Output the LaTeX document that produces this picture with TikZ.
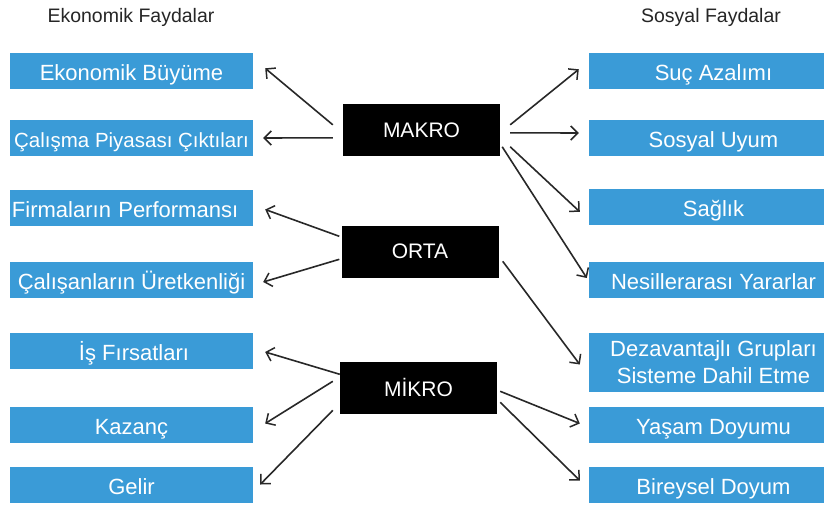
\documentclass[tikz,border=0pt]{standalone}
\usepackage{fontspec}
\setmainfont{Liberation Sans}
\usetikzlibrary{arrows.meta,calc}
\definecolor{boxblue}{RGB}{58,155,215}
\definecolor{linegray}{RGB}{40,40,40}
\tikzset{
  bbox/.style={fill=boxblue, draw=none, text=white, inner sep=0pt, minimum width=243pt, minimum height=36pt, text height=19.8pt, text depth=0pt, font=\fontsize{22}{26}\selectfont},
  longtxt/.style={text height=18.7pt, font=\fontsize{20.5}{24}\selectfont},
  rbox/.style={bbox, minimum width=235pt},
  blk/.style={fill=black, text=white, inner sep=0pt, minimum width=157pt, minimum height=52pt, font=\fontsize{21}{24}\selectfont},
  ttl/.style={font=\fontsize{19.5}{23}\selectfont, text=black!85},
  arr/.style={draw=linegray, line width=1.6pt, -{Straight Barb[length=7pt,width=14pt,line width=1.5pt]}}
}
\begin{document}
\begin{tikzpicture}[x=1pt,y=-1pt]
\useasboundingbox[fill=white] (0,0) rectangle (824,509);
% titles
\node[ttl] (tl) at (131,17) {Ekonomik Faydalar};
\node[ttl] (tr) at (711,17) {Sosyal Faydalar};
% left boxes
\node[bbox] (eb) at (131.5,70.5) {Ekonomik Büyüme};
\node[bbox, longtxt] (cp) at (131.5,138) {Çalışma Piyasası Çıktıları};
\node[bbox, text width=239pt, align=left] (fp) at (131.5,207.5) {Firmaların Performansı};
\node[bbox] (cu) at (131.5,280) {Çalışanların Üretkenliği};
\node[bbox] (is) at (131.5,351) {\hspace*{5pt}İş Fırsatları};
\node[bbox] (kz) at (131.5,424.5) {Kazanç};
\node[bbox] (gl) at (131.5,484.5) {Gelir};
% right boxes
\node[rbox] (sa) at (706.5,70.5) {\hspace*{14pt}Suç Azalımı};
\node[rbox] (su) at (706.5,138) {\hspace*{14pt}Sosyal Uyum};
\node[rbox] (sg) at (706.5,207) {\hspace*{14pt}Sağlık};
\node[rbox] (ny) at (706.5,280) {\hspace*{14pt}Nesillerarası Yararlar};
\node[rbox, minimum height=59pt, text height=, text depth=, align=center, font=\fontsize{22}{27}\selectfont] (dg) at (706.5,362.5) {\hspace*{14pt}Dezavantajlı Grupları\\\hspace*{14pt}Sisteme Dahil Etme};
\node[rbox] (yd) at (706.5,424.5) {\hspace*{14pt}Yaşam Doyumu};
\node[rbox] (bd) at (706.5,484.5) {\hspace*{14pt}Bireysel Doyum};
% center black boxes
\node[blk] (makro) at (421.5,130) {MAKRO};
\node[blk] (orta) at (420,251.5) {ORTA};
\node[blk] (mikro) at (418.5,387.5) {MİKRO};
% MAKRO arrows
\draw[arr] ($(makro.north west)+(-10,21)$) -- ($(eb.north east)+(12,16)$);
\draw[arr] ($(makro.north west)+(-10,34)$) -- ($(cp.east)+(10,0)$);
\draw[arr] ($(makro.north east)+(10,21)$) -- ($(sa.north west)+(-10,17)$);
\draw[arr] ($(makro.north east)+(10,29)$) -- ($(su.west)+(-10,-5)$);
\draw[arr] ($(makro.north east)+(10,43)$) -- ($(sg.north west)+(-9,23)$);
\draw[arr] ($(makro.north east)+(2,43)$) -- ($(ny.west)+(-2,-2)$);
% ORTA arrows
\draw[arr] ($(orta.north west)+(-2,11)$) -- ($(fp.east)+(12,2)$);
\draw[arr] ($(orta.north west)+(-2,34)$) -- ($(cu.east)+(10,2)$);
\draw[arr] ($(orta.north east)+(4,36)$) -- ($(dg.west)+(-9,2)$);
% MIKRO arrows
\draw[arr] ($(mikro.north west)+(0,13)$) -- ($(is.east)+(12,1)$);
\draw[arr] ($(mikro.north west)+(-7,20)$) -- ($(kz.east)+(12,-1)$);
\draw[arr] ($(mikro.north west)+(-7,49)$) -- ($(gl.east)+(7,0)$);
\draw[arr] ($(mikro.north east)+(3,30)$) -- ($(yd.west)+(-9,-1)$);
\draw[arr] ($(mikro.north east)+(3,41)$) -- ($(bd.west)+(-9,-4)$);
\end{tikzpicture}
\end{document}
